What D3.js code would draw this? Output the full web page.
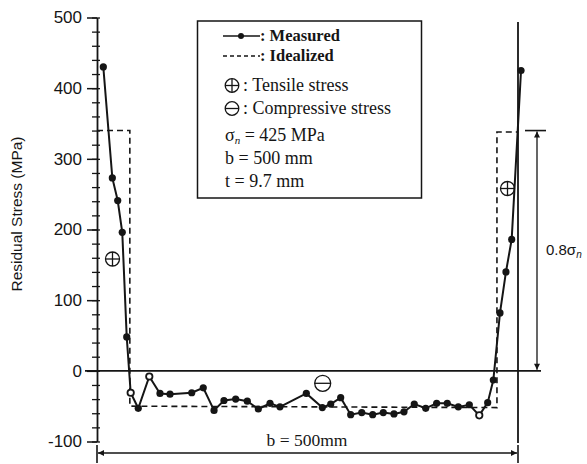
<!DOCTYPE html>
<html>
<head>
<meta charset="utf-8">
<script src="https://cdn.jsdelivr.net/npm/d3@7"></script>
<style>
  body { margin: 0; background: #fff; }
  svg { display: block; }
</style>
</head>
<body>
<svg id="chart" width="587" height="464"></svg>
<script>
// measured points: position across plate (mm) and residual stress (MPa)
const xMeasured = [7.5, 18.2, 24.6, 30, 35.3, 40, 49, 62.1, 74.8, 86.7, 112.5, 126.2, 139, 150.8, 164.7, 178.5,
  191.6, 205.5, 217.3, 248.6, 267.6, 277.6, 289.4, 301.3, 314.4, 327.4, 340, 352.7, 364.6, 376.8, 390.4,
  403.4, 416, 429.1, 442.2, 454, 464, 470.7, 478.6, 485.7, 492.5, 503.6];
const yMeasured = [430, 273, 241, 196, 48, -31, -53, -8, -32, -33, -31, -24, -56, -42, -40, -43,
  -54, -46, -51, -32, -52, -47, -38, -62, -59, -62, -59, -61, -58, -47, -53,
  -46, -46, -51, -48, -63, -45, -13, 82, 140, 186, 425];
const openPoints = [5, 7, 35];

// idealized distribution
const xIdeal = [0, 39, 39, 475, 475, 500];
const yIdeal = [340, 340, -50, -52, 338, 338];

const yTicks = [-100, 0, 100, 200, 300, 400, 500];
const yMinorTicks = d3.range(-100, 501, 20);

const legendLines = ["Tensile stress", "Compressive stress"];
const notes = ["b = 500 mm", "t = 9.7 mm"];

const svg = d3.select("#chart");
const ink = "#151515";

const x = d3.scaleLinear().domain([0, 500]).range([97, 518]);
const y = d3.scaleLinear().domain([-100, 500]).range([441.5, 17.5]);

// minor ticks
svg.append("g")
  .attr("transform", "translate(100,0)")
  .call(d3.axisLeft(y).tickValues(yMinorTicks).tickSize(8).tickFormat(""))
  .call(g => g.select(".domain").remove())
  .selectAll("line").attr("stroke", ink).attr("stroke-width", 1.3);

// main y axis
const yAxis = svg.append("g")
  .attr("transform", `translate(${x(0)},0)`)
  .call(d3.axisLeft(y).tickValues(yTicks).tickSize(10).tickPadding(5).tickSizeOuter(0)
    .tickFormat(d => String(d)));
yAxis.select(".domain").attr("stroke", ink).attr("stroke-width", 1.8);
yAxis.selectAll(".tick line").attr("stroke", ink).attr("stroke-width", 1.5);
yAxis.selectAll("text")
  .attr("fill", ink)
  .style("font-family", "'Liberation Sans', Arial, sans-serif")
  .style("font-size", "17px");

svg.append("text")
  .attr("transform", `translate(22,${214}) rotate(-90)`)
  .attr("text-anchor", "middle")
  .attr("fill", ink)
  .style("font-family", "'Liberation Sans', Arial, sans-serif")
  .style("font-size", "15.5px")
  .text("Residual Stress (MPa)");

// zero line
svg.append("line")
  .attr("x1", 85).attr("x2", 541)
  .attr("y1", y(0)).attr("y2", y(0))
  .attr("stroke", ink).attr("stroke-width", 1.8);

// right plate edge
svg.append("line")
  .attr("x1", x(500)).attr("x2", x(500))
  .attr("y1", 22).attr("y2", 443)
  .attr("stroke", ink).attr("stroke-width", 1.8);

// idealized dashed
const ideal = xIdeal.map((d, i) => [d, yIdeal[i]]);
svg.append("path")
  .datum(ideal)
  .attr("d", d3.line().x(d => x(d[0])).y(d => y(d[1])))
  .attr("fill", "none")
  .attr("stroke", ink)
  .attr("stroke-width", 1.6)
  .attr("stroke-dasharray", "6,4");

// measured
const measured = xMeasured.map((d, i) => [d, yMeasured[i]]);
svg.append("path")
  .datum(measured)
  .attr("d", d3.line().x(d => x(d[0])).y(d => y(d[1])))
  .attr("fill", "none")
  .attr("stroke", ink)
  .attr("stroke-width", 2);

svg.selectAll(".pt")
  .data(measured)
  .enter()
  .append("circle")
  .attr("class", "pt")
  .attr("cx", d => x(d[0]))
  .attr("cy", d => y(d[1]))
  .attr("r", (d, i) => openPoints.includes(i) ? 3.2 : 3.6)
  .attr("fill", (d, i) => openPoints.includes(i) ? "#fff" : ink)
  .attr("stroke", ink)
  .attr("stroke-width", (d, i) => openPoints.includes(i) ? 1.8 : 0);

// arrow markers
const defs = svg.append("defs");
defs.append("marker")
  .attr("id", "arrow")
  .attr("viewBox", "0 0 10 10")
  .attr("refX", 10).attr("refY", 5)
  .attr("markerWidth", 10).attr("markerHeight", 6)
  .attr("markerUnits", "userSpaceOnUse")
  .attr("orient", "auto-start-reverse")
  .append("path")
  .attr("d", "M0,0 L10,5 L0,10 Z")
  .attr("fill", ink);

// b = 500mm dimension
const dimY = 453;
svg.append("line")
  .attr("x1", x(0) + 1).attr("x2", x(500) - 1)
  .attr("y1", dimY).attr("y2", dimY)
  .attr("stroke", ink).attr("stroke-width", 1.3)
  .attr("marker-start", "url(#arrow)")
  .attr("marker-end", "url(#arrow)");
[0, 500].forEach(v => {
  svg.append("line")
    .attr("x1", x(v)).attr("x2", x(v))
    .attr("y1", 445).attr("y2", 463)
    .attr("stroke", ink).attr("stroke-width", 1.6);
});
svg.append("text")
  .attr("x", 307).attr("y", 446)
  .attr("text-anchor", "middle")
  .attr("fill", ink)
  .style("font-family", "'Liberation Serif', 'Times New Roman', serif")
  .style("font-size", "17.5px")
  .text("b = 500mm");

// 0.8 sigma dimension
const capY = y(0.8 * 425);
svg.append("line")
  .attr("x1", 525).attr("x2", 546)
  .attr("y1", capY).attr("y2", capY)
  .attr("stroke", ink).attr("stroke-width", 1.6);
svg.append("line")
  .attr("x1", 537).attr("x2", 537)
  .attr("y1", capY + 1).attr("y2", y(0) - 1)
  .attr("stroke", ink).attr("stroke-width", 1.3)
  .attr("marker-start", "url(#arrow)")
  .attr("marker-end", "url(#arrow)");
const sig = svg.append("text")
  .attr("x", 546).attr("y", 255)
  .attr("fill", ink)
  .style("font-family", "'Liberation Sans', Arial, sans-serif")
  .style("font-size", "15px");
sig.append("tspan").text("0.8σ");
sig.append("tspan").attr("dy", 3).style("font-size", "10px").style("font-style", "italic").text("n");

// plus / minus symbols in the plot
function circleSign(cx, cy, r, plus) {
  const g = svg.append("g").attr("stroke", ink).attr("stroke-width", 1.3).attr("fill", "none");
  g.append("circle").attr("cx", cx).attr("cy", cy).attr("r", r);
  g.append("line").attr("x1", cx - r).attr("x2", cx + r).attr("y1", cy).attr("y2", cy);
  if (plus) g.append("line").attr("x1", cx).attr("x2", cx).attr("y1", cy - r).attr("y2", cy + r);
}
circleSign(112.5, 259, 7, true);
circleSign(507.5, 188.5, 7, true);
circleSign(322.7, 383.3, 8, false);

// legend box
svg.append("rect")
  .attr("x", 197.5).attr("y", 21)
  .attr("width", 224).attr("height", 177)
  .attr("fill", "none")
  .attr("stroke", ink).attr("stroke-width", 1.5);

const serif = "'Liberation Serif', 'Times New Roman', serif";

svg.append("line")
  .attr("x1", 223).attr("x2", 260).attr("y1", 36).attr("y2", 36)
  .attr("stroke", ink).attr("stroke-width", 1.5);
svg.append("circle").attr("cx", 241).attr("cy", 36).attr("r", 3).attr("fill", ink);
svg.append("text").attr("x", 260).attr("y", 41)
  .attr("fill", ink).style("font-family", serif).style("font-size", "16.5px").style("font-weight", "bold")
  .text(": Measured");

svg.append("line")
  .attr("x1", 223).attr("x2", 260).attr("y1", 56).attr("y2", 56)
  .attr("stroke", ink).attr("stroke-width", 1.5).attr("stroke-dasharray", "4,3");
svg.append("text").attr("x", 260).attr("y", 61)
  .attr("fill", ink).style("font-family", serif).style("font-size", "16.5px").style("font-weight", "bold")
  .text(": Idealized");

legendLines.forEach((t, i) => {
  const ty = 91 + i * 23;
  circleSign(232, ty - 5.5, 6.8, i === 0);
  svg.append("text").attr("x", 243).attr("y", ty)
    .attr("fill", ink).style("font-family", serif).style("font-size", "18px")
    .text(": " + t);
});

const sn = svg.append("text").attr("x", 225).attr("y", 141)
  .attr("fill", ink).style("font-family", serif).style("font-size", "18px");
sn.append("tspan").text("σ");
sn.append("tspan").attr("dy", 3).style("font-size", "11px").style("font-style", "italic").text("n");
sn.append("tspan").attr("dy", -3).text(" = 425 MPa");

notes.forEach((t, i) => {
  svg.append("text").attr("x", 225).attr("y", 164 + i * 22.5)
    .attr("fill", ink).style("font-family", serif).style("font-size", "18px")
    .text(t);
});
</script>
</body>
</html>
